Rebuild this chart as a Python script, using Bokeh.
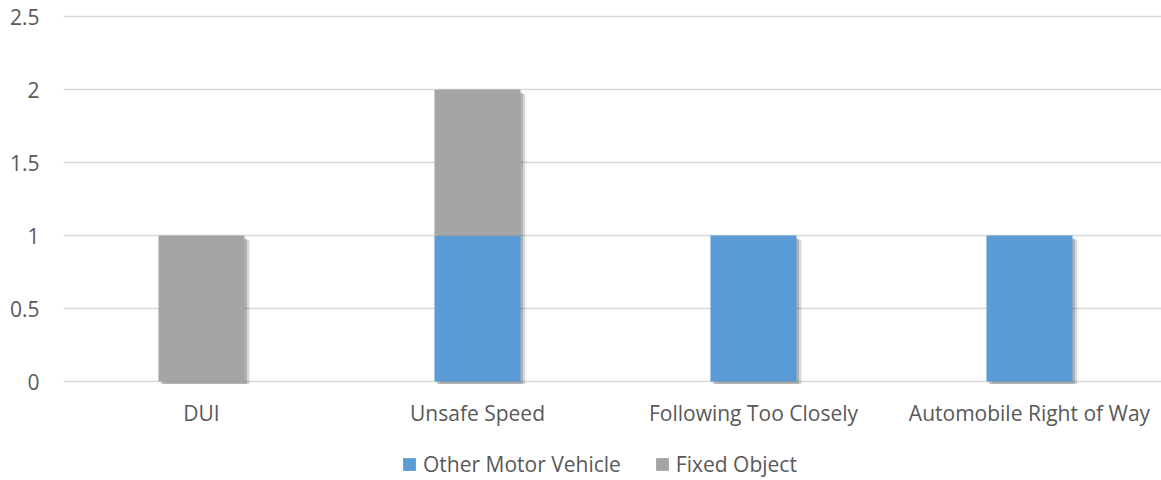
from bokeh.plotting import figure
from bokeh.models import Range1d, Legend, LegendItem, FixedTicker, ColumnDataSource
from bokeh.core.properties import value
from bokeh.embed import file_html
from bokeh.resources import INLINE

categories = ["DUI", "Unsafe Speed", "Following Too Closely", "Automobile Right of Way"]
other_motor_vehicle = [0, 1, 1, 1]
fixed_object = [1, 1, 0, 0]
y_ticks = [0, 0.5, 1, 1.5, 2, 2.5]
y_tick_labels = ["0", "0.5", "1", "1.5", "2", "2.5"]
series_names = ["Other Motor Vehicle", "Fixed Object"]
colors = ["#5B9BD5", "#A5A5A5"]

FONT = "Open Sans"
TXT = "#595959"
GRID = "#D9D9D9"

W, H = 1161, 480
LEFT = 63
ZERO_Y, TOP_TICK_Y = 381, 16     # pixel rows of the 0 and 2.5 gridlines
TOP_BORDER = 6
frame_w = W - LEFT
ppu = (ZERO_Y - TOP_TICK_Y) / 2.5
cat_px = 276.0
BAR_W = 0.312
y_lo = -(H - ZERO_Y) / ppu
y_hi = 2.5 + (TOP_TICK_Y - TOP_BORDER) / ppu

xs = [i + 0.5 for i in range(len(categories))]
totals = [a + b for a, b in zip(other_motor_vehicle, fixed_object)]

p = figure(width=W, height=H, output_backend="svg", toolbar_location=None,
           x_range=Range1d(0, frame_w / cat_px), y_range=Range1d(y_lo, y_hi),
           min_border_left=LEFT, min_border_right=0, min_border_top=TOP_BORDER, min_border_bottom=0)
p.outline_line_color = None
p.background_fill_color = "white"
p.border_fill_color = "white"

# soft drop shadows
shadow = ColumnDataSource(dict(
    x1=[x + 2.5 / cat_px for x in xs], x2=[x + 4.5 / cat_px for x in xs], x3=[x + 6.0 / cat_px for x in xs],
    top1=[t - 3.0 / ppu for t in totals], top2=[t - 4.0 / ppu for t in totals], top3=[t - 5.0 / ppu for t in totals],
    bottom=[-2.5 / ppu] * len(totals)))
p.vbar(x="x3", top="top3", bottom="bottom", width=BAR_W, source=shadow,
       fill_color="#000000", fill_alpha=0.05, line_color=None)
p.vbar(x="x2", top="top2", bottom="bottom", width=BAR_W, source=shadow,
       fill_color="#000000", fill_alpha=0.10, line_color=None)
p.vbar(x="x1", top="top1", bottom="bottom", width=BAR_W, source=shadow,
       fill_color="#000000", fill_alpha=0.18, line_color=None)

src = ColumnDataSource(dict(x=xs, omv=other_motor_vehicle, fo=fixed_object))
rs = p.vbar_stack(["omv", "fo"], x="x", width=BAR_W, color=colors, source=src, line_color=None)

p.xgrid.grid_line_color = None
p.ygrid.grid_line_color = GRID
p.ygrid.grid_line_width = 1.3
p.ygrid.ticker = FixedTicker(ticks=y_ticks)

p.yaxis.ticker = FixedTicker(ticks=y_ticks)
p.yaxis.major_label_overrides = {t: l for t, l in zip(y_ticks, y_tick_labels)}
p.yaxis.axis_line_color = None
p.yaxis.major_tick_line_color = None
p.yaxis.minor_tick_line_color = None
p.yaxis.major_tick_out = 0
p.yaxis.major_tick_in = 0
p.yaxis.major_label_standoff = 24
p.yaxis.major_label_text_font = FONT
p.yaxis.major_label_text_font_size = "21px"
p.yaxis.major_label_text_color = TXT

p.xaxis.visible = False

# category labels under the zero line
p.text(x=xs, y=[0] * len(xs), text=categories, y_offset=31,
       text_align="center", text_baseline="middle",
       text_font=value(FONT), text_font_size="21px", text_color=TXT)

legend = Legend(items=[LegendItem(label=n, renderers=[r]) for n, r in zip(series_names, rs)],
                orientation="horizontal", location=(338, 2),
                glyph_width=16, glyph_height=16, label_standoff=6, spacing=33,
                padding=0, margin=0, border_line_color=None, background_fill_alpha=0,
                label_text_font=FONT, label_text_font_size="21px", label_text_color=TXT)
p.add_layout(legend, "center")

open("out.html", "w").write(file_html(p, INLINE))
